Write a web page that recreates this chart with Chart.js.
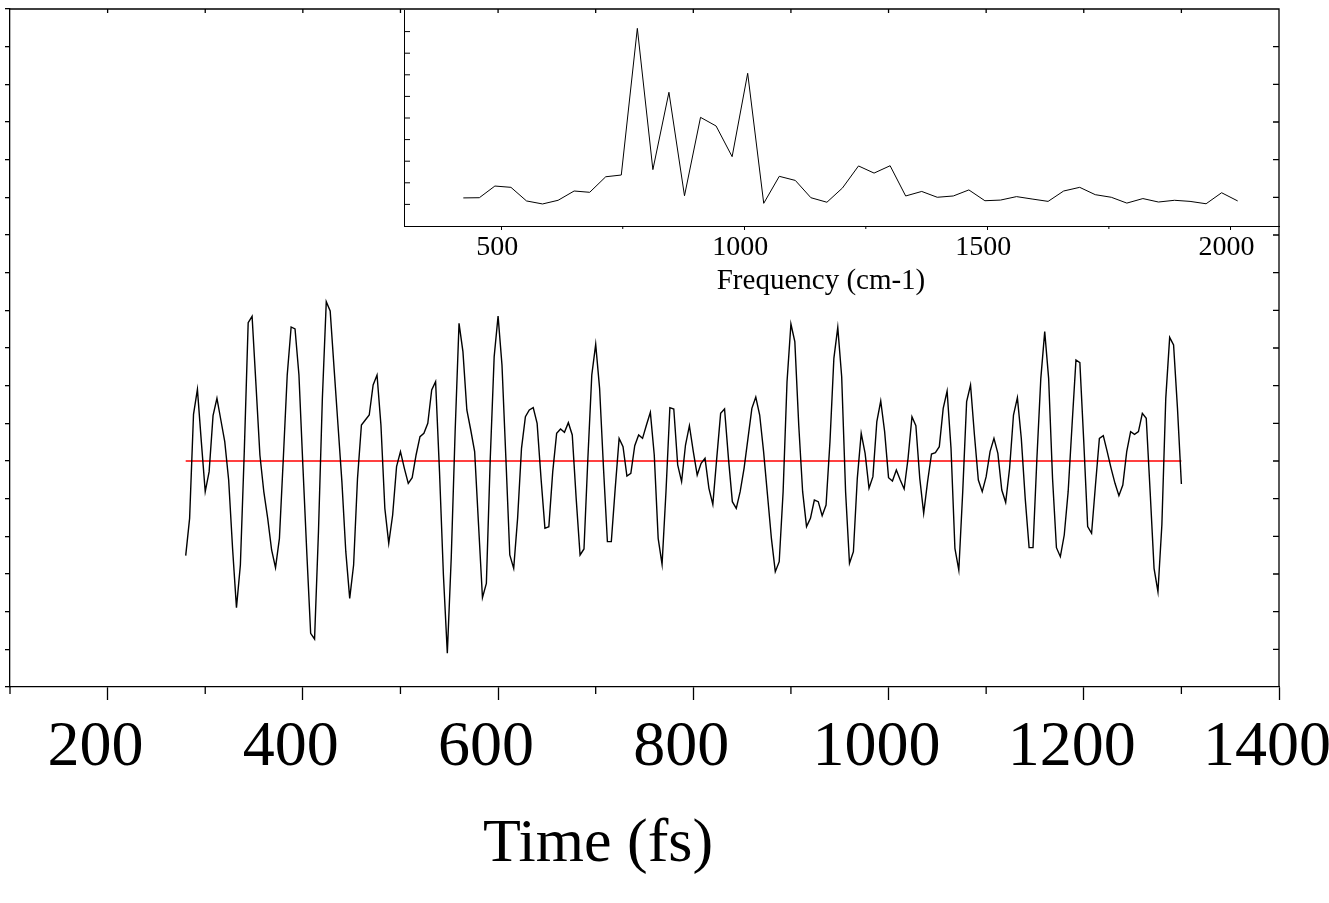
<!DOCTYPE html>
<html>
<head>
<meta charset="utf-8">
<title>Time trace with frequency spectrum inset</title>
<script src="https://cdn.jsdelivr.net/npm/chart.js@4.4.1/dist/chart.umd.min.js"></script>
<style>
  html, body { margin: 0; padding: 0; background: #fff; }
  #wrap { position: relative; width: 1329px; height: 903px; }
  #main { position: absolute; left: 0; top: 0; }
  #inset { position: absolute; left: 380px; top: 0; }
</style>
</head>
<body>
<div id="wrap">
  <canvas id="main" width="1329" height="903"></canvas>
  <canvas id="inset" width="949" height="300"></canvas>
</div>
<script>
// time samples (fs)
const times = [
  280,284,288,292,296,300,304,308,312,316,320,324,328,332,336,340,
  344,348,352,356,360,364,368,372,376,380,384,388,392,396,400,404,
  408,412,416,420,424,428,432,436,440,444,448,452,456,460,464,468,
  472,476,480,484,488,492,496,500,504,508,512,516,520,524,528,532,
  536,540,544,548,552,556,560,564,568,572,576,580,584,588,592,596,
  600,604,608,612,616,620,624,628,632,636,640,644,648,652,656,660,
  664,668,672,676,680,684,688,692,696,700,704,708,712,716,720,724,
  728,732,736,740,744,748,752,756,760,764,768,772,776,780,784,788,
  792,796,800,804,808,812,816,820,824,828,832,836,840,844,848,852,
  856,860,864,868,872,876,880,884,888,892,896,900,904,908,912,916,
  920,924,928,932,936,940,944,948,952,956,960,964,968,972,976,980,
  984,988,992,996,1000,1004,1008,1012,1016,1020,1024,1028,1032,1036,1040,1044,
  1048,1052,1056,1060,1064,1068,1072,1076,1080,1084,1088,1092,1096,1100,1104,1108,
  1112,1116,1120,1124,1128,1132,1136,1140,1144,1148,1152,1156,1160,1164,1168,1172,
  1176,1180,1184,1188,1192,1196,1200,1204,1208,1212,1216,1220,1224,1228,1232,1236,
  1240,1244,1248,1252,1256,1260,1264,1268,1272,1276,1280,1284,1288,1292,1296,1300
];

// oscillatory signal (arb. units)
const signal = [
  -284,-172,140,215,58,-92,-32,136,188,123,58,-57,-262,-440,-312,28,
  415,434,228,18,-92,-172,-267,-320,-232,8,258,402,396,258,-12,-272,
  -517,-534,-212,188,478,450,278,108,-62,-272,-412,-312,-52,108,123,138,
  228,258,108,-142,-247,-162,-17,28,-22,-67,-50,18,73,83,113,213,
  238,-32,-342,-577,-292,88,413,328,153,93,28,-192,-410,-367,8,313,
  435,288,8,-282,-322,-172,38,133,153,160,113,-52,-202,-197,-32,83,
  96,86,115,78,-112,-282,-264,8,258,350,218,-22,-242,-242,-82,68,
  43,-45,-37,46,78,68,108,146,18,-232,-310,-92,160,156,-12,-62,
  48,106,28,-42,-7,8,-82,-130,8,143,156,8,-122,-142,-92,-22,
  68,158,192,138,28,-102,-232,-332,-302,-92,238,411,358,108,-92,-197,
  -172,-117,-122,-164,-132,58,308,401,253,-92,-307,-272,-52,83,23,-82,
  -47,118,180,88,-50,-60,-27,-57,-84,8,133,106,-52,-157,-62,21,
  25,43,158,210,38,-262,-327,-92,178,228,78,-57,-92,-47,28,68,
  23,-87,-124,-22,138,190,68,-112,-260,-260,8,248,388,248,-52,-260,
  -287,-222,-92,108,303,295,58,-197,-217,-72,68,76,28,-22,-67,-104,
  -72,28,88,80,88,143,128,-92,-322,-392,-192,188,371,348,158,-69
];

// spectrum of the trace (inset)
const freqs = [
  422,455,487,520,552,585,617,650,682,715,747,780,812,845,877,910,942,975,1007,1040,
  1072,1105,1137,1170,1202,1235,1267,1300,1332,1365,1397,1430,1462,1495,1527,1560,1592,1625,1657,1690,
  1722,1755,1787,1820,1852,1885,1917,1950,1982,2015
];
const amps = [
  13.0,13.1,18.5,17.9,11.6,10.2,11.9,16.2,15.6,22.8,23.6,91.5,26.1,61.9,14.0,50.3,46.3,32.1,70.7,10.5,
  23.0,21.1,13.1,11.0,17.6,27.8,24.5,27.9,13.9,16.0,13.3,13.9,16.7,11.7,12.0,13.6,12.5,11.4,16.2,17.9,
  14.5,13.3,10.6,12.7,11.1,11.9,11.4,10.3,15.4,11.6
];
const freqTicks = [500, 750, 1000, 1250, 1500, 1750, 2000];

const serif = "'Liberation Serif', 'Times New Roman', serif";

// extra tick marks (inward ticks, minor ticks, closing frame) + free captions
const decorations = {
  id: 'decorations',
  afterDraw(chart, args, opts) {
    const { ctx, chartArea: a, scales: { x, y } } = chart;
    ctx.save();
    ctx.strokeStyle = '#000';
    ctx.lineWidth = opts.lineWidth || 1;
    ctx.beginPath();
    if (opts.frame) {
      ctx.moveTo(a.left, a.top); ctx.lineTo(a.right, a.top); ctx.lineTo(a.right, a.bottom);
    }
    x.ticks.forEach(t => {
      const px = x.getPixelForValue(t.value);
      if (t.value % opts.majorX !== 0) {
        ctx.moveTo(px, a.bottom); ctx.lineTo(px, a.bottom + opts.minorLen);
      }
      if (opts.topTicks && t.value > x.min && t.value < x.max) {
        ctx.moveTo(px, a.top); ctx.lineTo(px, a.top + opts.topTicks);
      }
    });
    y.ticks.forEach(t => {
      const py = y.getPixelForValue(t.value);
      if (t.value <= y.min || t.value >= y.max) return;
      if (opts.rightTicks) { ctx.moveTo(a.right, py); ctx.lineTo(a.right - opts.rightTicks, py); }
      if (opts.leftTicks) { ctx.moveTo(a.left, py); ctx.lineTo(a.left + opts.leftTicks, py); }
    });
    ctx.stroke();
    if (opts.caption) {
      ctx.fillStyle = '#000';
      ctx.font = opts.caption.size + 'px ' + serif;
      ctx.textAlign = 'center';
      ctx.textBaseline = 'middle';
      ctx.fillText(opts.caption.text, opts.caption.x, opts.caption.y);
    }
    ctx.restore();
  }
};

const mainChart = new Chart(document.getElementById('main'), {
  type: 'line',
  data: {
    datasets: [{
      data: times.map((t, i) => ({ x: t, y: signal[i] })),
      borderColor: '#000',
      borderWidth: 1.4,
      pointRadius: 0,
      tension: 0
    }, {
      data: [{ x: times[0], y: 0 }, { x: times[times.length - 1], y: 0 }],
      borderColor: '#ff0000',
      borderWidth: 1.3,
      pointRadius: 0
    }]
  },
  options: {
    responsive: false,
    animation: false,
    layout: { padding: { top: 9, right: 50, left: 0, bottom: 0 } },
    plugins: {
      legend: { display: false },
      tooltip: { enabled: false },
      decorations: {
        lineWidth: 1.3, frame: true, majorX: 200, minorLen: 7, topTicks: 4, rightTicks: 6,
        caption: { text: 'Time (fs)', x: 598, y: 845, size: 62 }
      }
    },
    scales: {
      x: {
        type: 'linear', min: 100, max: 1400,
        ticks: {
          stepSize: 100, autoSkip: false, maxRotation: 0, padding: 16, labelOffset: -12, color: '#000',
          font: { family: serif, size: 64, lineHeight: 1 },
          callback: v => (v % 200 === 0 ? v : '')
        },
        grid: {
          drawOnChartArea: false, tickLength: 13, tickWidth: 1.3,
          tickColor: c => (c.tick && c.tick.value % 200 === 0 ? '#000' : 'rgba(0,0,0,0)')
        },
        border: { color: '#000', width: 1.3 },
        afterFit: s => { s.height = 216; s.paddingLeft = 0; s.paddingRight = 0; }
      },
      y: {
        min: -678, max: 1356,
        ticks: { stepSize: 113, display: false },
        grid: { drawOnChartArea: false, tickLength: 5, color: '#000', lineWidth: 1.3 },
        border: { color: '#000', width: 1.3 },
        afterFit: s => { s.width = 10; }
      }
    }
  },
  plugins: [decorations]
});

const insetChart = new Chart(document.getElementById('inset'), {
  type: 'line',
  data: {
    datasets: [{
      data: freqs.map((f, i) => ({ x: f, y: amps[i] })),
      borderColor: '#000',
      borderWidth: 1,
      pointRadius: 0,
      tension: 0
    }]
  },
  options: {
    responsive: false,
    animation: false,
    layout: { padding: { top: 10, right: 50, left: 0, bottom: 0 } },
    plugins: {
      legend: { display: false },
      tooltip: { enabled: false },
      decorations: {
        lineWidth: 1, frame: false, majorX: 500, minorLen: 3, leftTicks: 6,
        caption: { text: 'Frequency (cm-1)', x: 441, y: 281, size: 29 }
      }
    },
    scales: {
      x: {
        type: 'linear', min: 300, max: 2100,
        afterBuildTicks: s => { s.ticks = freqTicks.map(v => ({ value: v })); },
        ticks: {
          autoSkip: false, maxRotation: 0, padding: 4, labelOffset: -4, color: '#000',
          font: { family: serif, size: 28, lineHeight: 1 },
          callback: v => (v % 500 === 0 ? v : '')
        },
        grid: {
          drawOnChartArea: false, tickLength: 4,
          tickColor: c => (c.tick && c.tick.value % 500 === 0 ? '#000' : 'rgba(0,0,0,0)')
        },
        border: { color: '#000', width: 1 },
        afterFit: s => { s.height = 74; s.paddingLeft = 0; s.paddingRight = 0; }
      },
      y: {
        min: 0, max: 100,
        ticks: { stepSize: 10, display: false },
        grid: { display: false },
        border: { color: '#000', width: 1 },
        afterFit: s => { s.width = 24; }
      }
    }
  },
  plugins: [decorations]
});
</script>
</body>
</html>
